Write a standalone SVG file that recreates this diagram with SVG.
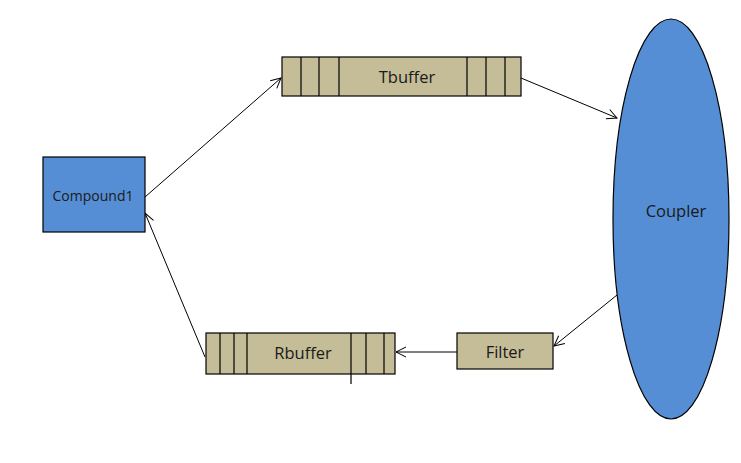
<svg xmlns="http://www.w3.org/2000/svg" width="741" height="463" viewBox="0 0 741 463">
<defs>
<style>
.tan{fill:#c4bd97;stroke:#000;stroke-width:1.2}
.blue{fill:#558ed5;stroke:#000;stroke-width:1.2}
.div{stroke:#000;stroke-width:1.2}
.lbl{font-family:"Open Sans","Liberation Sans",sans-serif;fill:#1a1a1a;text-anchor:middle;dominant-baseline:central}
.conn{stroke:#000;stroke-width:1;fill:none;marker-end:url(#arr)}
</style>
<marker id="arr" viewBox="0 0 12 12" refX="11" refY="6" markerWidth="12" markerHeight="12" markerUnits="userSpaceOnUse" orient="auto">
<path d="M1,1 L11,6 L1,11" fill="none" stroke="#000" stroke-width="1"/>
</marker>
</defs>
<rect width="741" height="463" fill="#fff"/>
<g id="connectors">
<line class="conn" x1="145" y1="197" x2="281" y2="78"/>
<line class="conn" x1="521" y1="78" x2="617" y2="118"/>
<line class="conn" x1="617" y1="295" x2="554" y2="346"/>
<line class="conn" x1="457" y1="352" x2="396" y2="352"/>
<line class="conn" x1="205" y1="357" x2="145" y2="213"/>
</g>
<g id="compound1">
<rect class="blue" x="43" y="157" width="102" height="75"/>
<text class="lbl" x="93" y="195" font-size="14" fill="#141a3a">Compound1</text>
</g>
<g id="tbuffer">
<rect class="tan" x="282" y="57" width="239" height="39"/>
<path class="div" d="M301,57V96M319,57V96M339,57V96M467,57V96M486,57V96M505,57V96"/>
<text class="lbl" x="407" y="76" font-size="16.5">Tbuffer</text>
</g>
<g id="coupler">
<ellipse class="blue" cx="671" cy="219" rx="58" ry="200"/>
<text class="lbl" x="676" y="210" font-size="16.5">Coupler</text>
</g>
<g id="filter">
<rect class="tan" x="457" y="333" width="96" height="36"/>
<text class="lbl" x="505" y="351" font-size="16.5">Filter</text>
</g>
<g id="rbuffer">
<rect class="tan" x="206" y="333" width="189" height="41"/>
<path class="div" d="M220,333V374M234,333V374M247,333V374M351,333V384M366,333V374M384,333V374"/>
<text class="lbl" x="303" y="352" font-size="16.5">Rbuffer</text>
</g>
</svg>
